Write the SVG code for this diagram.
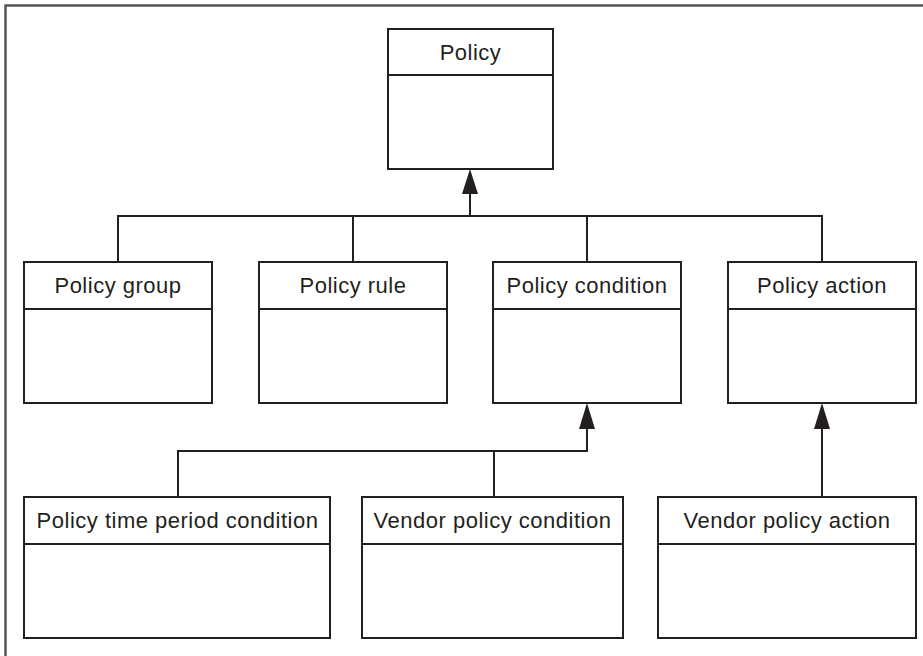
<svg xmlns="http://www.w3.org/2000/svg" width="923" height="656" viewBox="0 0 923 656">
  <style>
    .box { fill: #ffffff; stroke: #231f20; stroke-width: 2; }
    .sep { stroke: #231f20; stroke-width: 2; }
    .lbl { font-family: "Liberation Sans", Arial, sans-serif; font-size: 22px; letter-spacing: 0.5px; fill: #231f20; text-anchor: middle; }
    .wire { fill: none; stroke: #231f20; stroke-width: 2; }
    .head { fill: #231f20; stroke: none; }
  </style>
  <rect width="923" height="656" fill="#ffffff"/>
  <!-- page frame -->
  <path d="M5.5 660 V5.5 H930" fill="none" stroke="#555555" stroke-width="2.5"/>

  <!-- connectors -->
  <g id="connectors">
    <path class="wire" d="M118 262 V216 H822 V262 M353 216 V262 M587 216 V262"/>
    <path class="wire" d="M470 216 V192" stroke-width="2.5"/>
    <polygon class="head" points="470,169 462,194 478,194"/>
    <path class="wire" d="M178 497 V451 H587 V427 M494 451 V497"/>
    <polygon class="head" points="587,403 579,429 595,429"/>
    <path class="wire" d="M822 497 V427"/>
    <polygon class="head" points="822,403 814,429 830,429"/>
  </g>

  <g id="policy">
    <rect class="box" x="388" y="29" width="165" height="140"/>
    <line class="sep" x1="388" y1="75" x2="553" y2="75"/>
    <text class="lbl" x="470.5" y="60">Policy</text>
  </g>

  <g id="policy-group">
    <rect class="box" x="24" y="262" width="188" height="141"/>
    <line class="sep" x1="24" y1="309" x2="212" y2="309"/>
    <text class="lbl" x="118" y="293">Policy group</text>
  </g>

  <g id="policy-rule">
    <rect class="box" x="259" y="262" width="188" height="141"/>
    <line class="sep" x1="259" y1="309" x2="447" y2="309"/>
    <text class="lbl" x="353" y="293">Policy rule</text>
  </g>

  <g id="policy-condition">
    <rect class="box" x="493" y="262" width="188" height="141"/>
    <line class="sep" x1="493" y1="309" x2="681" y2="309"/>
    <text class="lbl" x="587" y="293">Policy condition</text>
  </g>

  <g id="policy-action">
    <rect class="box" x="728" y="262" width="188" height="141"/>
    <line class="sep" x1="728" y1="309" x2="916" y2="309"/>
    <text class="lbl" x="822" y="293">Policy action</text>
  </g>

  <g id="policy-time-period-condition">
    <rect class="box" x="24" y="497" width="306" height="141"/>
    <line class="sep" x1="24" y1="544" x2="330" y2="544"/>
    <text class="lbl" x="177.5" y="528">Policy time period condition</text>
  </g>

  <g id="vendor-policy-condition">
    <rect class="box" x="362" y="497" width="261" height="141"/>
    <line class="sep" x1="362" y1="544" x2="623" y2="544"/>
    <text class="lbl" x="492.5" y="528">Vendor policy condition</text>
  </g>

  <g id="vendor-policy-action">
    <rect class="box" x="658" y="497" width="258" height="141"/>
    <line class="sep" x1="658" y1="544" x2="916" y2="544"/>
    <text class="lbl" x="787" y="528">Vendor policy action</text>
  </g>
</svg>
